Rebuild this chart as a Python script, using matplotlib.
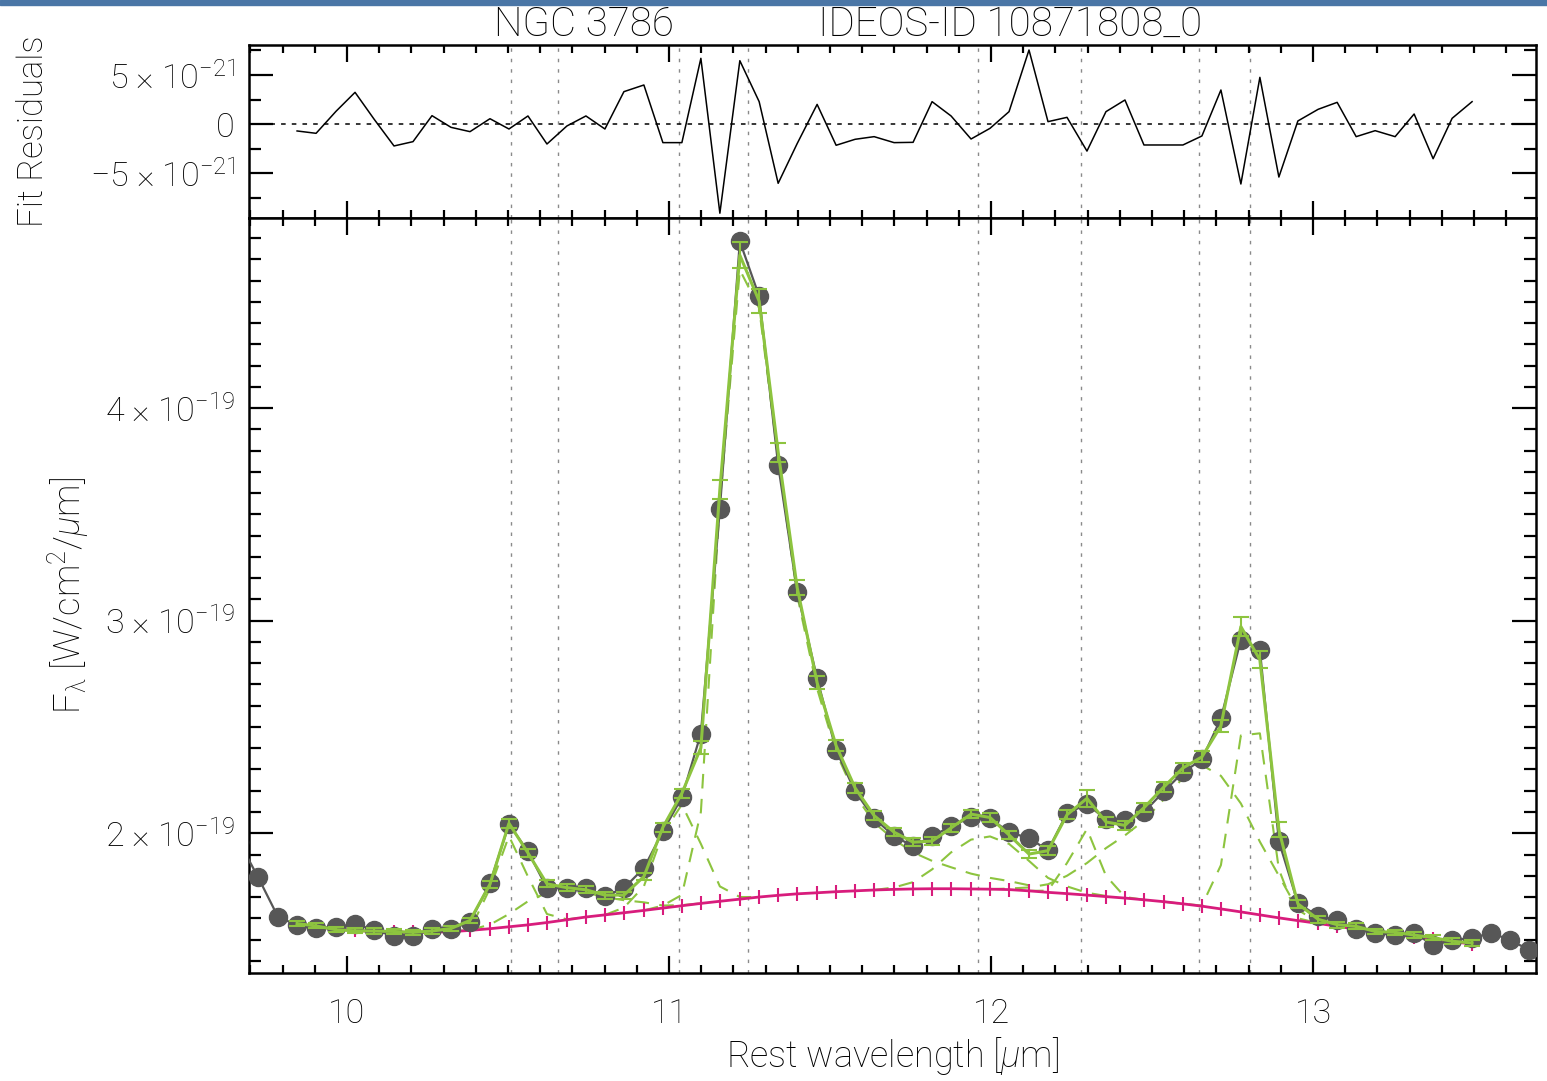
import numpy as np
import matplotlib
matplotlib.use("Agg")
import matplotlib.pyplot as plt
from matplotlib.ticker import FixedLocator, MultipleLocator
from matplotlib.patches import Rectangle

plt.rcParams['font.family'] = ['Roboto', 'DejaVu Sans']
plt.rcParams['font.weight'] = 'light'
plt.rcParams['axes.labelweight'] = 'light'
plt.rcParams['mathtext.fontset'] = 'custom'
plt.rcParams['mathtext.rm'] = 'Roboto:light'
plt.rcParams['mathtext.it'] = 'Roboto:italic:light'
plt.rcParams['mathtext.default'] = 'rm'

# observed spectrum (flux in 1e-19 W/cm2/um)
wave = [9.665, 9.724, 9.786, 9.845, 9.904, 9.966, 10.025, 10.084, 10.146, 10.205,
        10.264, 10.323, 10.382, 10.444, 10.503, 10.562, 10.621, 10.683, 10.742, 10.801,
        10.860, 10.922, 10.981, 11.040, 11.099, 11.158, 11.220, 11.280, 11.339, 11.398,
        11.460, 11.519, 11.578, 11.637, 11.699, 11.758, 11.817, 11.876, 11.938, 11.997,
        12.056, 12.118, 12.177, 12.236, 12.298, 12.357, 12.416, 12.475, 12.537, 12.596,
        12.655, 12.714, 12.776, 12.835, 12.894, 12.953, 13.016, 13.075, 13.134, 13.193,
        13.255, 13.314, 13.373, 13.432, 13.494, 13.553, 13.612, 13.671]
flux = [1.96, 1.793, 1.606, 1.568, 1.554, 1.559, 1.573, 1.545, 1.516, 1.516,
        1.549, 1.549, 1.582, 1.765, 2.042, 1.915, 1.742, 1.742, 1.742, 1.704,
        1.742, 1.836, 2.009, 2.169, 2.469, 3.526, 4.784, 4.526, 3.732, 3.136,
        2.728, 2.390, 2.197, 2.070, 1.986, 1.939, 1.986, 2.033, 2.075, 2.070,
        2.005, 1.977, 1.920, 2.094, 2.136, 2.066, 2.061, 2.099, 2.197, 2.286,
        2.347, 2.540, 2.911, 2.864, 1.962, 1.671, 1.610, 1.592, 1.549, 1.531,
        1.521, 1.531, 1.474, 1.498, 1.507, 1.531, 1.498, 1.451]

# fit range (9.845 .. 13.494)
fit_wave = wave[3:65]
model = [1.575, 1.564, 1.546, 1.541, 1.540, 1.538, 1.534, 1.540, 1.552, 1.590,
         1.760, 2.047, 1.907, 1.762, 1.744, 1.734, 1.709, 1.709, 1.796, 2.028,
         2.188, 2.402, 3.617, 4.719, 4.503, 3.793, 3.156, 2.708, 2.412, 2.213,
         2.083, 2.005, 1.958, 1.963, 2.025, 2.090, 2.074, 1.992, 1.902, 1.918,
         2.087, 2.164, 2.053, 2.037, 2.120, 2.218, 2.307, 2.359, 2.505, 2.972,
         2.816, 2.016, 1.668, 1.595, 1.570, 1.562, 1.538, 1.534, 1.521, 1.509,
         1.492, 1.484]
model_err = [0.012, 0.012, 0.012, 0.012, 0.012, 0.012, 0.012, 0.012, 0.012, 0.013,
             0.016, 0.02, 0.018, 0.016, 0.016, 0.016, 0.016, 0.016, 0.018, 0.02,
             0.022, 0.03, 0.045, 0.06, 0.055, 0.045, 0.035, 0.03, 0.025, 0.022,
             0.02, 0.02, 0.018, 0.018, 0.02, 0.02, 0.02, 0.02, 0.02, 0.02,
             0.022, 0.04, 0.022, 0.022, 0.022, 0.024, 0.025, 0.026, 0.028, 0.045,
             0.04, 0.035, 0.018, 0.015, 0.014, 0.014, 0.013, 0.013, 0.013, 0.013,
             0.013, 0.013]
continuum = [1.572, 1.560, 1.550, 1.543, 1.538, 1.535, 1.534, 1.535, 1.537, 1.543,
             1.551, 1.560, 1.569, 1.580, 1.593, 1.606, 1.616, 1.626, 1.637, 1.648,
             1.659, 1.670, 1.680, 1.690, 1.700, 1.708, 1.715, 1.720, 1.725, 1.729,
             1.733, 1.736, 1.738, 1.739, 1.739, 1.738, 1.737, 1.735, 1.729, 1.722,
             1.716, 1.709, 1.702, 1.695, 1.687, 1.678, 1.668, 1.657, 1.644, 1.630,
             1.616, 1.602, 1.589, 1.576, 1.562, 1.549, 1.537, 1.526, 1.513, 1.501,
             1.490, 1.479]
# residuals (1e-21)
resid = [-0.71, -0.95, 1.3, 3.23, 0.5, -2.24, -1.8, 0.85, -0.34, -0.78,
         0.54, -0.51, 0.82, -2.04, -0.2, 0.82, -0.51, 3.3, 3.98, -1.9,
         -1.9, 6.7, -9.1, 6.46, 2.28, -6.05, -2.0, 2.0, -2.17, -1.56,
         -1.29, -1.9, -1.87, 2.28, 0.82, -1.53, -0.44, 1.26, 7.55, 0.24,
         0.68, -2.76, 1.26, 2.45, -2.14, -2.14, -2.14, -1.22, 3.47, -6.12,
         4.76, -5.41, 0.31, 1.5, 2.21, -1.29, -0.68, -1.29, 1.02, -3.54,
         0.58, 2.28]

# individual fit components (continuum + feature), dashed
siv_x = [10.323, 10.382, 10.444, 10.503, 10.562, 10.621, 10.683, 10.742]
siv_y = [1.537, 1.545, 1.741, 1.987, 1.796, 1.62, 1.595, 1.606]
pah107_x = [10.382, 10.444, 10.503, 10.562, 10.621, 10.683, 10.742, 10.801, 10.860,
            10.922, 10.981, 11.040, 11.099]
pah107_y = [1.545, 1.57, 1.62, 1.68, 1.72, 1.735, 1.72, 1.70, 1.685,
            1.675, 1.66, 1.662, 1.670]
pah110_x = [10.801, 10.860, 10.922, 10.981, 11.040, 11.099, 11.158, 11.220, 11.280]
pah110_y = [1.616, 1.65, 1.75, 2.00, 2.135, 1.95, 1.75, 1.70, 1.70]
pah112_x = [10.922, 10.981, 11.040, 11.099, 11.158, 11.220, 11.280, 11.339, 11.398,
            11.460, 11.519, 11.578, 11.637, 11.699, 11.758, 11.817, 11.876, 11.938,
            11.997, 12.056, 12.118]
pah112_y = [1.637, 1.66, 1.71, 2.10, 3.557, 4.65, 4.47, 3.76, 3.12,
            2.68, 2.38, 2.18, 2.05, 1.97, 1.91, 1.87, 1.84, 1.81,
            1.79, 1.775, 1.755]
pah120_x = [11.637, 11.699, 11.758, 11.817, 11.876, 11.938, 11.997, 12.056, 12.118,
            12.177, 12.236, 12.298, 12.357]
pah120_y = [1.733, 1.745, 1.77, 1.83, 1.91, 1.97, 1.985, 1.95, 1.87,
            1.79, 1.75, 1.72, 1.705]
h2_x = [12.118, 12.177, 12.236, 12.298, 12.357, 12.416, 12.475]
h2_y = [1.729, 1.73, 1.86, 2.02, 1.80, 1.70, 1.687]
pah126_x = [11.997, 12.056, 12.118, 12.177, 12.236, 12.298, 12.357, 12.416, 12.475,
            12.537, 12.596, 12.655, 12.714, 12.776, 12.835, 12.894, 12.953, 13.016,
            13.075]
pah126_y = [1.737, 1.74, 1.745, 1.76, 1.80, 1.86, 1.93, 1.99, 2.06,
            2.16, 2.26, 2.32, 2.27, 2.14, 1.96, 1.80, 1.64, 1.58,
            1.562]
neii_x = [12.537, 12.596, 12.655, 12.714, 12.776, 12.835, 12.894, 12.953, 13.016]
neii_y = [1.678, 1.668, 1.66, 1.85, 2.46, 2.47, 1.83, 1.60, 1.577]
components = [(siv_x, siv_y), (pah107_x, pah107_y), (pah110_x, pah110_y),
              (pah112_x, pah112_y), (pah120_x, pah120_y), (h2_x, h2_y),
              (pah126_x, pah126_y), (neii_x, neii_y)]

# feature positions (dotted verticals)
lines_um = [10.51, 10.655, 11.03, 11.245, 11.96, 12.28, 12.645, 12.805]

GREEN = "#8dc43f"
PINK = "#d81c7c"
GRAY = "#575757"

fig = plt.figure(figsize=(15.47, 10.81), dpi=100)
fig.patches.append(Rectangle((0, 0.9955), 1, 0.0045, transform=fig.transFigure,
                             color="#4a76a6", zorder=10))

ax_r = fig.add_axes([0.16096, 0.79833, 0.83193, 0.16004])
ax = fig.add_axes([0.16096, 0.10018, 0.83193, 0.69815])

xlim = (9.6957, 13.6925)

for a in (ax, ax_r):
    for lx in lines_um:
        a.axvline(lx, color="#8a8a8a", lw=1.0, ls=(0, (2.5, 5)), zorder=1)
    a.set_xlim(*xlim)
    for s in a.spines.values():
        s.set_linewidth(1.8)
    a.xaxis.set_major_locator(MultipleLocator(1))
    a.xaxis.set_minor_locator(MultipleLocator(0.1))
    a.tick_params(which="both", direction="in", top=True, right=True, width=1.6,
                  labelsize=24.5, colors="black")
    a.tick_params(axis="x", which="major", length=12, pad=18)
    a.tick_params(axis="x", which="minor", length=6)
    a.tick_params(axis="y", which="major", length=17, pad=10)
    a.tick_params(axis="y", which="minor", length=8.5)

# residual panel
ax_r.plot(fit_wave, resid, color="black", lw=1.1, zorder=3)
ax_r.axhline(0, color="black", lw=1.1, ls=(0, (3, 4)), zorder=2)
ax_r.set_ylim(-9.59, 8.06)
ax_r.yaxis.set_major_locator(FixedLocator([-5, 0, 5]))
ax_r.yaxis.set_minor_locator(MultipleLocator(2.5))
ax_r.set_yticklabels([r"−5 × 10$^{-21}$", "0", r"5 × 10$^{-21}$"])
ax_r.set_xticklabels([])
ax_r.set_ylabel("Fit Residuals", fontsize=25, labelpad=0)
ax_r.yaxis.set_label_coords(-0.155, 0.5)

# main panel
for cx, cy in components:
    ax.plot(cx, cy, color=GREEN, lw=1.5, dashes=(7, 5), zorder=2)
ax.plot(fit_wave, continuum, color=PINK, lw=2.0, marker="|", ms=10, mew=1.5,
        zorder=3)
ax.plot(wave, flux, color=GRAY, lw=1.6, marker="o", ms=13, mec=GRAY, mfc=GRAY,
        zorder=4, clip_on=True)
ax.errorbar(fit_wave, model, yerr=model_err, color=GREEN, lw=2.2, elinewidth=1.5,
            capsize=6, capthick=1.5, zorder=5)

ax.set_ylim(1.344, 4.894)
ax.yaxis.set_major_locator(FixedLocator([2, 3, 4]))
ax.yaxis.set_minor_locator(MultipleLocator(0.1))
ax.set_yticklabels([r"2 × 10$^{-19}$", r"3 × 10$^{-19}$", r"4 × 10$^{-19}$"])
ax.set_xticks([10, 11, 12, 13])
ax.set_xticklabels(["10", "11", "12", "13"])
ax.set_xlabel(r"Rest wavelength [$\mathit{\mu}$m]", fontsize=26, labelpad=4)
ax.set_ylabel(r"F$_\lambda$ [W/cm$^2$/$\mathit{\mu}$m]", fontsize=26, labelpad=0)
ax.yaxis.set_label_coords(-0.123, 0.5)

fig.text(0.3775, 0.9667, "NGC 3786", ha="center", va="baseline", fontsize=29)
fig.text(0.653, 0.9667, "IDEOS-ID 10871808_0", ha="center", va="baseline",
         fontsize=29)

fig.savefig("out.png", dpi=100)
